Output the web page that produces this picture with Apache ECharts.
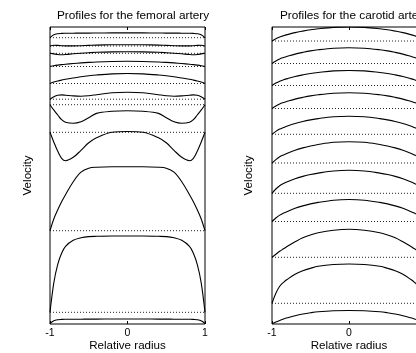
<!DOCTYPE html>
<html>
<head>
<meta charset="utf-8">
<script src="https://cdn.jsdelivr.net/npm/echarts@6/dist/echarts.min.js"></script>
<style>
  html, body { margin: 0; padding: 0; background: #fff; }
  #chart { width: 416px; height: 353px; }
</style>
</head>
<body>
<div id="chart"></div>
<script>
// relative radius samples (half profile, mirrored for -r)
var radii = [0, 0.2, 0.4, 0.5, 0.6, 0.7, 0.8, 0.85, 0.9, 0.95, 1];

// femoral artery: baseline offsets and profile velocity above baseline
var femoralBase = [286.3, 278, 270.7, 257.5, 240.5, 224.8, 219.3, 191.7, 93.3, 11.7, 0.5];
var femoral1 = [4.8, 4.8, 4.7, 4.6, 4.6, 4.5, 4.4, 4.3, 4.0, 3.0, 0];
var femoral2 = [1.3, 1.2, 0.9, 0.6, 0.3, 0.1, 0.1, 0.3, 0.6, 0.8, 0];
var femoral3 = [1.5, 1.4, 1.0, 0.6, 0.1, -0.5, -1.2, -1.4, -1.2, -0.6, 0];
var femoral4 = [5.2, 5.0, 4.5, 4.1, 3.6, 3.0, 2.3, 1.9, 1.4, 0.8, 0];
var femoral5 = [10, 9.6, 8.5, 7.7, 6.7, 5.5, 4.2, 3.4, 2.5, 1.4, 0];
var femoral6 = [7, 6.5, 4.5, 3.5, 3, 3.3, 4, 4.3, 4, 2.5, 0];
var femoral7 = [-6, -6.6, -8.7, -13, -17, -18.5, -17.5, -15, -10.3, -5.5, 0];
var femoral8 = [0.8, 0, -5.5, -10.5, -18, -25, -28.4, -26, -19, -10, 0];
var femoral9 = [64, 64, 63.5, 62.5, 58.5, 49, 36, 29, 21, 12, 0];
var femoral10 = [76.3, 76.3, 76, 75.7, 74.5, 72, 66, 59, 48, 30, 0];
var femoral11 = [4.5, 4.5, 4.4, 4.4, 4.3, 4.3, 4.2, 4.1, 3.8, 2.8, 0];
var femoralProfiles = [femoral1, femoral2, femoral3, femoral4, femoral5, femoral6,
                       femoral7, femoral8, femoral9, femoral10, femoral11];

// carotid artery
var carotidBase = [283, 260.5, 238.5, 215.5, 189.7, 161, 130.7, 102.5, 66.7, 20.7, 0];
var carotid1 = [14, 13.6, 12.2, 11.2, 9.9, 8.4, 6.4, 5.3, 4, 2.2, 0];
var carotid2 = [15.7, 15.2, 13.7, 12.6, 11.1, 9.4, 7.2, 6, 4.6, 2.5, 0];
var carotid3 = [15, 14.6, 13, 12, 10.6, 9, 6.9, 5.7, 4.3, 2.4, 0];
var carotid4 = [15.7, 15.2, 13.7, 12.6, 11.1, 9.4, 7.2, 6, 4.6, 2.5, 0];
var carotid5 = [18, 17.5, 15.7, 14.4, 12.8, 10.8, 8.3, 6.8, 5.2, 2.9, 0];
var carotid6 = [21.3, 20.7, 18.5, 17, 15.1, 12.8, 9.8, 8.1, 6.2, 3.4, 0];
var carotid7 = [23, 22.3, 20.2, 18.8, 16.9, 14.6, 11.6, 9.8, 7.6, 4.3, 0];
var carotid8 = [22, 21.3, 19.1, 17.6, 15.6, 13.2, 10.1, 8.4, 6.4, 3.5, 0];
var carotid9 = [28, 27, 24.5, 22.3, 19.5, 15.5, 11, 8.5, 6, 3, 0];
var carotid10 = [39.3, 38.8, 37, 35, 32.5, 29, 24, 21, 17, 10, 0];
var carotid11 = [13.5, 13.3, 12.3, 11.3, 10, 8.3, 6.2, 5, 3.6, 1.9, 0];
var carotidProfiles = [carotid1, carotid2, carotid3, carotid4, carotid5, carotid6,
                       carotid7, carotid8, carotid9, carotid10, carotid11];

var xTicks = [-1, 0, 1];
var yMax = 297;

function fullProfile(base, half) {
    var pts = [];
    for (var i = radii.length - 1; i > 0; i--) pts.push([-radii[i], base + half[i]]);
    for (var j = 0; j < radii.length; j++) pts.push([radii[j], base + half[j]]);
    return pts;
}

function panelSeries(idx, bases, profiles) {
    var out = [];
    bases.forEach(function (b, k) {
        if (k < bases.length - 1) {
            out.push({
                type: 'line', xAxisIndex: idx, yAxisIndex: idx, silent: true,
                symbol: 'none', data: [[-1, b], [1, b]],
                lineStyle: { color: '#222', width: 1, type: [1, 2] }
            });
        }
        out.push({
            type: 'line', xAxisIndex: idx, yAxisIndex: idx, silent: true,
            symbol: 'none', smooth: 0.35,
            data: fullProfile(b, profiles[k]),
            lineStyle: { color: '#000', width: 1.1 }
        });
    });
    return out;
}

var font = 'Liberation Sans, Arial, sans-serif';

function xAxisFor(idx) {
    return {
        gridIndex: idx, type: 'value', min: -1, max: 1, interval: 1,
        name: 'Relative radius', nameLocation: 'middle', nameGap: 16, nameMoveOverlap: false,
        nameTextStyle: { color: '#000', fontSize: 11.6, fontFamily: font },
        axisLine: { show: false },
        axisTick: { show: true, inside: true, length: 3, lineStyle: { color: '#000' } },
        axisLabel: { color: '#000', fontSize: 10.5, fontFamily: font, margin: 4,
                     formatter: function (v) { return xTicks.indexOf(v) >= 0 ? String(v) : ''; } },
        splitLine: { show: false }
    };
}
function topAxisFor(idx) {
    return {
        gridIndex: idx, type: 'value', min: -1, max: 1, interval: 1, position: 'top',
        axisLine: { show: false },
        axisTick: { show: true, inside: true, length: 3, lineStyle: { color: '#000' } },
        axisLabel: { show: false }, splitLine: { show: false }
    };
}
function yAxisFor(idx, gap) {
    return {
        gridIndex: idx, type: 'value', min: 0, max: yMax,
        name: 'Velocity', nameLocation: 'middle', nameGap: gap, nameRotate: 90, nameMoveOverlap: false,
        nameTextStyle: { color: '#000', fontSize: 11.6, fontFamily: font },
        axisLine: { show: false }, axisTick: { show: false },
        axisLabel: { show: false }, splitLine: { show: false }
    };
}

var chart = echarts.init(document.getElementById('chart'));
chart.setOption({
    animation: false,
    title: [
        { text: 'Profiles for the femoral artery', left: 128, top: 5, textAlign: 'center',
          textStyle: { fontSize: 11.8, fontWeight: 'normal', color: '#000', fontFamily: font } },
        { text: 'Profiles for the carotid artery', left: 349, top: 5, textAlign: 'center',
          textStyle: { fontSize: 11.8, fontWeight: 'normal', color: '#000', fontFamily: font } }
    ],
    grid: [
        { left: 50, top: 27, width: 155, height: 297, outerBoundsMode: 'none',
          show: true, borderColor: '#000', borderWidth: 1 },
        { left: 272, top: 27, width: 154, height: 297, outerBoundsMode: 'none',
          show: true, borderColor: '#000', borderWidth: 1 }
    ],
    xAxis: [xAxisFor(0), xAxisFor(1), topAxisFor(0), topAxisFor(1)],
    yAxis: [yAxisFor(0, 16), yAxisFor(1, 17)],
    series: panelSeries(0, femoralBase, femoralProfiles).concat(panelSeries(1, carotidBase, carotidProfiles))
});
</script>
</body>
</html>
